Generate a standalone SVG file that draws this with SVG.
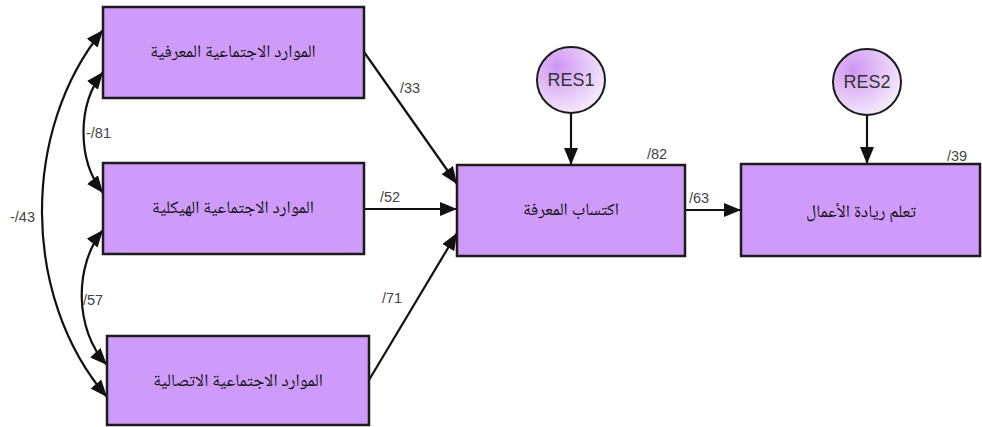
<svg xmlns="http://www.w3.org/2000/svg" width="982" height="427" viewBox="0 0 982 427">
<defs>
<marker id="ah" markerUnits="userSpaceOnUse" markerWidth="18" markerHeight="14" refX="17" refY="7" orient="auto-start-reverse" viewBox="0 0 18 14">
<path d="M0,0 L17,7 L0,14 z" fill="#111"/>
</marker>
<radialGradient id="cg" cx="0.3" cy="0.3" r="0.8">
<stop offset="0" stop-color="#cf96f2"/>
<stop offset="1" stop-color="#f6effc"/>
</radialGradient>
<style>
.box{fill:#cf9bfa;stroke:#1c1c1c;stroke-width:2.5}
.ar{font-family:'Noto Naskh Arabic','DejaVu Sans',sans-serif;font-size:17.5px;fill:#111;text-anchor:middle;dominant-baseline:middle}
.lb{font-family:'Liberation Sans',Arial,sans-serif;font-size:14.5px;fill:#444;direction:ltr}
.res{fill:url(#cg);stroke:#1c1c1c;stroke-width:2}
.rt{font-family:'Liberation Sans',Arial,sans-serif;font-size:18px;fill:#333;text-anchor:middle;dominant-baseline:middle}
.c{fill:none;stroke:#111;stroke-width:2.2}
</style>
</defs>
<g id="connectors">
<path class="c" d="M364,52 L457,184" marker-end="url(#ah)"/>
<path class="c" d="M364,209 L457,209" marker-end="url(#ah)"/>
<path class="c" d="M369,380 L457,233" marker-end="url(#ah)"/>
<path class="c" d="M685,210 L741,210" marker-end="url(#ah)"/>
<path class="c" d="M571,113 L571,165" marker-end="url(#ah)"/>
<path class="c" d="M867,115 L867,164" marker-end="url(#ah)"/>
<path class="c" d="M103,72 C77,105 77,160 103,193" marker-start="url(#ah)" marker-end="url(#ah)"/>
<path class="c" d="M103,230 C74,265 74,330 107,365" marker-start="url(#ah)" marker-end="url(#ah)"/>
<path class="c" d="M103,30 C21,130 21,297 107,397" marker-start="url(#ah)" marker-end="url(#ah)"/>
<text class="lb" x="400" y="93">/33</text>
<text class="lb" x="380" y="202">/52</text>
<text class="lb" x="382" y="303">/71</text>
<text class="lb" x="647" y="159">/82</text>
<text class="lb" x="689" y="203">/63</text>
<text class="lb" x="947" y="161">/39</text>
<text class="lb" x="86" y="138">-/81</text>
<text class="lb" x="83" y="305">/57</text>
<text class="lb" x="10" y="222">-/43</text>
</g>
<g id="n1"><rect class="box" x="103" y="7" width="261" height="91"/><text class="ar" x="233" y="52">الموارد الاجتماعية المعرفية</text></g>
<g id="n2"><rect class="box" x="103" y="163" width="261" height="91"/><text class="ar" x="233" y="208">الموارد الاجتماعية الهيكلية</text></g>
<g id="n3"><rect class="box" x="107" y="336" width="262" height="89"/><text class="ar" x="238" y="381">الموارد الاجتماعية الاتصالية</text></g>
<g id="n4"><rect class="box" x="457" y="165" width="228" height="91"/><text class="ar" x="571" y="210">اكتساب المعرفة</text></g>
<g id="n5"><rect class="box" x="741" y="164" width="239" height="92"/><text class="ar" x="861" y="212">تعلم ريادة الأعمال</text></g>
<g id="res1"><ellipse class="res" cx="571" cy="80" rx="34" ry="33"/><text class="rt" x="571" y="81">RES1</text></g>
<g id="res2"><ellipse class="res" cx="867" cy="82" rx="34" ry="33"/><text class="rt" x="867" y="83">RES2</text></g>
</svg>
